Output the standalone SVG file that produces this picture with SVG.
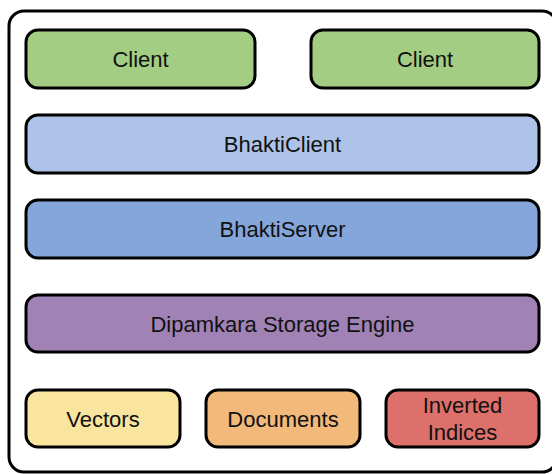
<svg xmlns="http://www.w3.org/2000/svg" width="552" height="474" viewBox="0 0 552 474">
<style>
.box{stroke:#000;stroke-width:3}
.t{font-family:"Liberation Sans",Arial,sans-serif;font-size:22px;fill:#111;text-anchor:middle;dominant-baseline:central}
</style>
<rect x="0" y="0" width="552" height="474" fill="#fff"/>
<rect id="frame" x="9" y="11" width="548" height="461" rx="15" fill="none" stroke="#000" stroke-width="3"/>
<g id="connectors"></g>
<g id="client1"><rect class="box" x="26" y="30" width="229" height="58" rx="12" fill="#a3cd82"/><text class="t" x="140.5" y="59">Client</text></g>
<g id="client2"><rect class="box" x="311" y="30" width="228" height="58" rx="12" fill="#a3cd82"/><text class="t" x="425" y="59">Client</text></g>
<g id="bhakticlient"><rect class="box" x="26" y="115" width="513" height="58" rx="12" fill="#aec3e8"/><text class="t" x="282.5" y="144">BhaktiClient</text></g>
<g id="bhaktiserver"><rect class="box" x="26" y="200" width="513" height="58" rx="12" fill="#84a6da"/><text class="t" x="282.5" y="229">BhaktiServer</text></g>
<g id="storage"><rect class="box" x="26" y="295" width="513" height="57" rx="12" fill="#a082b5"/><text class="t" x="282.5" y="324">Dipamkara Storage Engine</text></g>
<g id="vectors"><rect class="box" x="26" y="390" width="154" height="57" rx="12" fill="#fae59f"/><text class="t" x="103" y="419">Vectors</text></g>
<g id="documents"><rect class="box" x="206" y="390" width="154" height="57" rx="12" fill="#f3b97a"/><text class="t" x="283" y="419">Documents</text></g>
<g id="inverted"><rect class="box" x="386" y="390" width="153" height="57" rx="12" fill="#dd706a"/><text class="t" x="462.5" y="405">Inverted</text><text class="t" x="462.5" y="432">Indices</text></g>
</svg>
